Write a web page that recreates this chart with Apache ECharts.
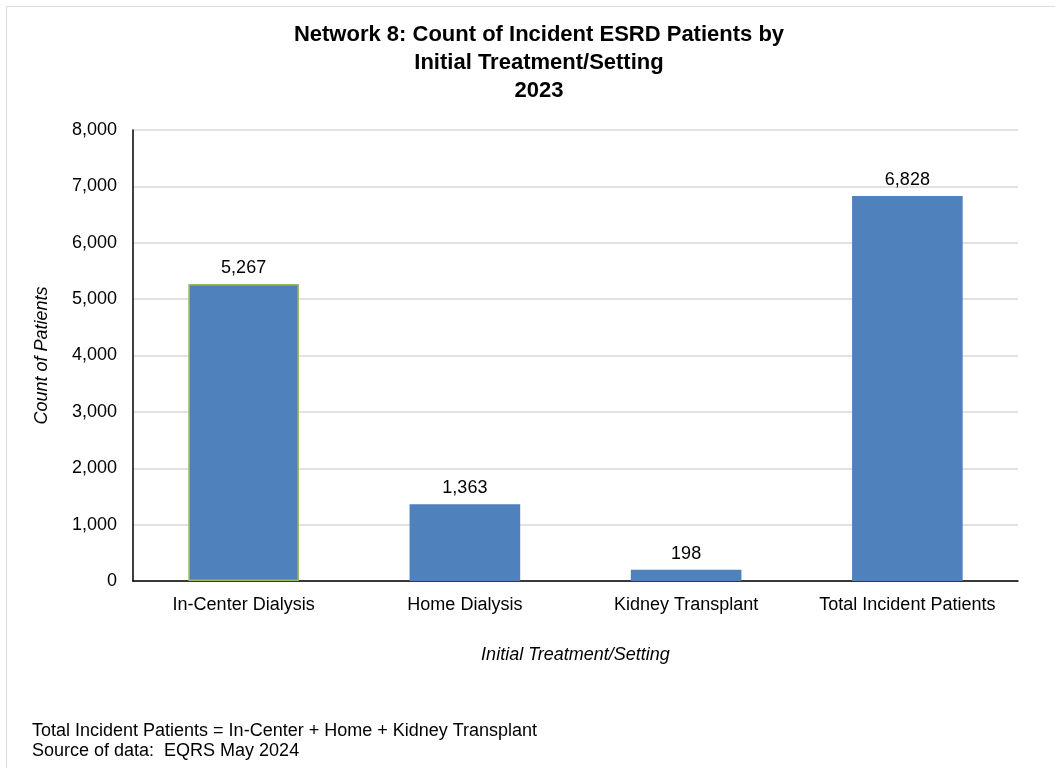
<!DOCTYPE html>
<html>
<head>
<meta charset="utf-8">
<script src="https://cdn.jsdelivr.net/npm/echarts@6/dist/echarts.min.js"></script>
<style>
html,body{margin:0;padding:0;background:#fff;}
#chart{width:1055px;height:768px;}
</style>
</head>
<body>
<div id="chart"></div>
<script>
const categories = ['In-Center Dialysis', 'Home Dialysis', 'Kidney Transplant', 'Total Incident Patients'];
const counts = [5267, 1363, 198, 6828];
const yTicks = { min: 0, max: 8000, interval: 1000 };
const titleLines = ['Network 8: Count of Incident ESRD Patients by', 'Initial Treatment/Setting', '2023'];
const footnotes = ['Total Incident Patients = In-Center + Home + Kidney Transplant', 'Source of data:  EQRS May 2024'];

const font = 'Arial, "Liberation Sans", sans-serif';
const chart = echarts.init(document.getElementById('chart'));
chart.setOption({
  animation: false,
  backgroundColor: '#fff',
  title: {
    text: titleLines.join('\n'),
    left: 534, top: 16, textAlign: 'center',
    textStyle: { fontFamily: font, fontSize: 22, fontWeight: 'bold', color: '#000', lineHeight: 28 }
  },
  grid: { left: 133, right: 37, top: 130, bottom: 187, containLabel: false },
  xAxis: {
    type: 'category', data: categories,
    name: 'Initial Treatment/Setting', nameLocation: 'middle', nameGap: 65,
    nameTextStyle: { fontFamily: font, fontSize: 18, fontStyle: 'italic', color: '#000' },
    axisLine: { lineStyle: { color: '#000', width: 1.5 } },
    axisTick: { show: false },
    axisLabel: { interval: 0, hideOverlap: false, fontFamily: font, fontSize: 18, color: '#000', margin: 15 }
  },
  yAxis: {
    type: 'value', min: yTicks.min, max: yTicks.max, interval: yTicks.interval,
    name: 'Count of Patients', nameLocation: 'middle', nameGap: 82,
    nameTextStyle: { fontFamily: font, fontSize: 18, fontStyle: 'italic', color: '#000' },
    axisLine: { show: true, lineStyle: { color: '#000', width: 1.5 } },
    axisTick: { show: false },
    splitLine: { lineStyle: { color: '#d9d9d9', width: 1.5 } },
    axisLabel: { fontFamily: font, fontSize: 18, color: '#000', margin: 16,
      formatter: v => v.toLocaleString('en-US') }
  },
  series: [{
    type: 'bar',
    barWidth: '50%',
    data: counts.map((v, i) => i === 0
      ? { value: v, itemStyle: { color: '#4F81BD', borderColor: '#9BBB59', borderWidth: 1.5 } }
      : { value: v, itemStyle: { color: '#4F81BD' } }),
    label: { show: true, position: 'top', distance: 7, fontFamily: font, fontSize: 18, color: '#000',
      formatter: p => p.value.toLocaleString('en-US') }
  }],
  graphic: [
    { type: 'rect', shape: { x: 6.5, y: 6.5, width: 1200, height: 1000 }, style: { fill: 'none', stroke: '#d9d9d9', lineWidth: 1 }, silent: true },
    { type: 'text', left: 32, top: 721, style: { text: footnotes.join('\n'), fontFamily: font, fontSize: 18, fill: '#000', lineHeight: 20 } }
  ]
});
</script>
</body>
</html>
